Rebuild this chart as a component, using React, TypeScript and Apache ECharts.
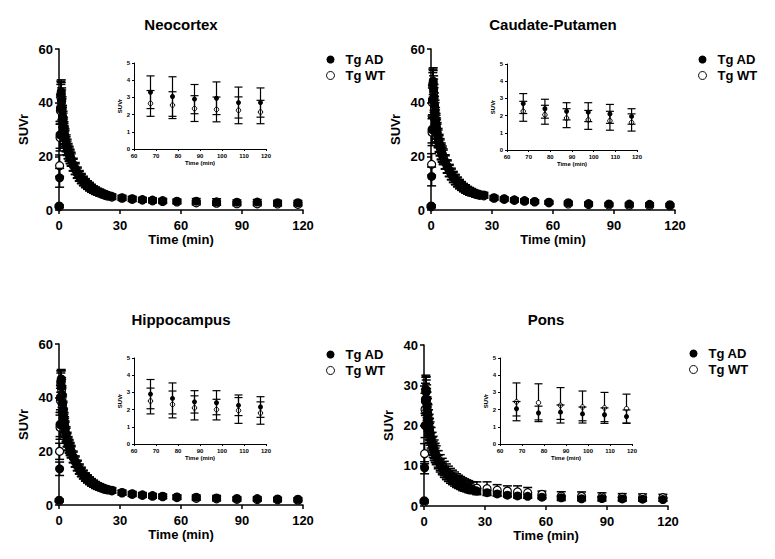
import React, { useEffect, useRef } from "react";
import * as echarts from "echarts";

// ---------- data ----------
const TIME = [0.1, 0.3, 0.5, 0.7, 0.9, 1.1, 1.3, 1.5, 1.75, 2,
  2.25, 2.5, 2.75, 3, 3.5, 4, 4.5, 5, 5.5, 6,
  7, 8, 9, 10, 11, 12, 13, 14, 15, 16,
  17, 18, 19, 20, 21, 22, 23, 24, 26, 31,
  36, 41, 46, 51, 58, 67.5, 77.5, 87.5, 97.5, 107.5,
  117.5];

const SERIES_NAMES = ["Tg AD", "Tg WT"];
const TITLES = ["Neocortex", "Caudate-Putamen", "Hippocampus", "Pons"];

const NEO_AD = [1.5, 12, 28, 38, 43, 44, 41, 38, 35, 33,
  31, 29.5, 28, 27, 25, 23.5, 22, 21, 20, 19,
  17, 15.5, 14, 12.8, 11.8, 10.9, 10.1, 9.4, 8.8, 8.2,
  7.7, 7.3, 6.9, 6.6, 6.3, 6, 5.7, 5.5, 5.1, 4.6,
  4.2, 3.9, 3.7, 3.5, 3.3, 3.3, 3.05, 2.9, 2.95, 2.7,
  2.7];
const NEO_AD_ERR = [0.5, 3.5, 5, 5, 5, 4.5, 4.5, 4.2, 4, 3.8,
  3.6, 3.4, 3.3, 3.2, 3, 2.9, 2.8, 2.7, 2.6, 2.5,
  2.3, 2.2, 2, 1.9, 1.8, 1.7, 1.6, 1.5, 1.5, 1.4,
  1.3, 1.3, 1.2, 1.2, 1.1, 1.1, 1, 1, 0.9, 0.9,
  0.9, 0.8, 0.8, 0.8, 0.8, 0.95, 1.15, 0.85, 0.95, 0.9,
  0.85];
const NEO_WT = [1.2, 16.5, 27, 37, 42, 43, 40.5, 37.5, 34.5, 32.5,
  30.5, 29, 27.5, 26.5, 24.5, 23, 21.6, 20.6, 19.6, 18.6,
  16.7, 15.2, 13.7, 12.5, 11.5, 10.6, 9.8, 9.1, 8.5, 7.9,
  7.4, 7, 6.6, 6.3, 6, 5.7, 5.4, 5.2, 4.8, 4.4,
  4, 3.7, 3.4, 3.2, 3, 2.65, 2.55, 2.35, 2.3, 2.25,
  2.15];
const NEO_WT_ERR = [0.4, 4, 5, 5, 4.8, 4.5, 4.2, 4, 3.8, 3.6,
  3.4, 3.2, 3.1, 3, 2.8, 2.7, 2.6, 2.5, 2.4, 2.3,
  2.2, 2, 1.9, 1.8, 1.7, 1.6, 1.5, 1.4, 1.4, 1.3,
  1.2, 1.2, 1.1, 1.1, 1, 1, 0.9, 0.9, 0.9, 0.8,
  0.8, 0.8, 0.75, 0.75, 0.75, 0.75, 0.78, 0.75, 0.72, 0.78,
  0.68];

const CP_AD = [1.5, 12.5, 30, 41, 47, 48, 45, 42, 39, 36.5,
  34, 32, 30.5, 29, 27, 25, 23.5, 22, 21, 20,
  18, 16.3, 14.8, 13.5, 12.4, 11.4, 10.5, 9.7, 9, 8.4,
  7.9, 7.4, 7, 6.7, 6.4, 6.1, 5.9, 5.7, 5.6, 4.6,
  4.2, 3.8, 3.5, 3.2, 2.9, 2.7, 2.4, 2.25, 2.2, 2.1,
  1.95];
const CP_AD_ERR = [0.5, 3.5, 5, 5.5, 5.5, 5, 5, 4.8, 4.6, 4.4,
  4.2, 4, 3.8, 3.6, 3.4, 3.2, 3.1, 3, 2.9, 2.8,
  2.6, 2.4, 2.2, 2.1, 2, 1.9, 1.8, 1.7, 1.6, 1.5,
  1.5, 1.4, 1.4, 1.3, 1.2, 1.2, 1.1, 1.1, 1, 0.8,
  0.7, 0.7, 0.6, 0.6, 0.6, 0.58, 0.55, 0.5, 0.55, 0.55,
  0.45];
const CP_WT = [1.2, 17, 29, 40, 46, 47, 44, 41, 38, 35.8,
  33.3, 31.5, 30, 28.5, 26.5, 24.6, 23.1, 21.6, 20.6, 19.6,
  17.7, 16, 14.5, 13.2, 12.1, 11.2, 10.3, 9.5, 8.8, 8.2,
  7.7, 7.2, 6.8, 6.5, 6.2, 5.9, 5.7, 5.5, 5.3, 4.4,
  4, 3.6, 3.3, 3, 2.7, 2.25, 2.05, 1.85, 1.75, 1.7,
  1.6];
const CP_WT_ERR = [0.4, 4, 5, 5.5, 5.2, 5, 4.8, 4.6, 4.4, 4.2,
  4, 3.8, 3.6, 3.5, 3.3, 3.1, 3, 2.9, 2.8, 2.7,
  2.5, 2.3, 2.1, 2, 1.9, 1.8, 1.7, 1.6, 1.5, 1.4,
  1.4, 1.3, 1.3, 1.2, 1.1, 1.1, 1, 1, 0.9, 0.7,
  0.7, 0.6, 0.6, 0.6, 0.55, 0.58, 0.55, 0.55, 0.55, 0.55,
  0.5];

const HIP_AD = [1.8, 13.5, 30, 40, 46, 47, 44, 41, 38, 35.5,
  33, 31.5, 30, 28.5, 26.5, 24.5, 23, 22, 21, 20,
  18, 16.3, 14.8, 13.5, 12.4, 11.4, 10.5, 9.8, 9.1, 8.5,
  8, 7.5, 7.1, 6.8, 6.5, 6.2, 6, 5.8, 5.5, 4.7,
  4.2, 3.8, 3.5, 3.3, 3, 2.9, 2.65, 2.45, 2.4, 2.25,
  2.15];
const HIP_AD_ERR = [0.5, 2.5, 4.5, 4.5, 4, 3.5, 3.5, 3.4, 3.3, 3.2,
  3.1, 3, 2.9, 2.8, 2.7, 2.6, 2.5, 2.4, 2.3, 2.2,
  2.1, 2, 1.9, 1.8, 1.7, 1.6, 1.5, 1.45, 1.4, 1.35,
  1.3, 1.25, 1.2, 1.15, 1.1, 1.05, 1, 1, 1, 0.9,
  0.85, 0.85, 0.8, 0.8, 0.8, 0.85, 0.9, 0.65, 0.7, 0.6,
  0.6];
const HIP_WT = [1.5, 20, 29, 39, 45, 46, 43, 40, 37.2, 34.8,
  32.4, 30.9, 29.4, 28, 26, 24.1, 22.6, 21.6, 20.6, 19.6,
  17.7, 16, 14.5, 13.2, 12.1, 11.2, 10.3, 9.6, 8.9, 8.3,
  7.8, 7.3, 6.9, 6.6, 6.3, 6, 5.8, 5.6, 5.3, 4.5,
  4, 3.6, 3.3, 3.1, 2.8, 2.5, 2.3, 2.1, 2, 1.95,
  1.8];
const HIP_WT_ERR = [0.4, 3, 4.5, 4.5, 4.2, 4, 3.8, 3.6, 3.4, 3.3,
  3.1, 3, 2.9, 2.8, 2.6, 2.5, 2.4, 2.3, 2.2, 2.1,
  2, 1.9, 1.8, 1.7, 1.6, 1.5, 1.45, 1.4, 1.3, 1.25,
  1.2, 1.15, 1.1, 1.05, 1, 1, 0.95, 0.9, 0.9, 0.8,
  0.8, 0.75, 0.75, 0.75, 0.75, 0.75, 0.78, 0.7, 0.6, 0.75,
  0.65];

const PONS_AD = [1.3, 9.5, 20, 26, 29, 28.5, 26.5, 24.5, 23, 21.5,
  20.3, 19.3, 18.4, 17.6, 16.3, 15.2, 14.3, 13.5, 12.8, 12.2,
  11.1, 10.2, 9.4, 8.7, 8.1, 7.6, 7.1, 6.7, 6.3, 5.9,
  5.6, 5.3, 5, 4.8, 4.6, 4.4, 4.2, 4, 3.7, 3.3,
  3, 2.7, 2.5, 2.4, 2.2, 2.05, 1.8, 1.85, 1.75, 1.7,
  1.6];
const PONS_AD_ERR = [0.3, 1.5, 3, 3, 3, 2.8, 2.7, 2.6, 2.5, 2.4,
  2.3, 2.2, 2.1, 2, 1.9, 1.8, 1.7, 1.65, 1.6, 1.55,
  1.45, 1.35, 1.3, 1.2, 1.15, 1.1, 1.05, 1, 0.95, 0.9,
  0.85, 0.8, 0.8, 0.75, 0.7, 0.7, 0.65, 0.65, 0.6, 0.55,
  0.5, 0.45, 0.45, 0.45, 0.42, 0.42, 0.4, 0.42, 0.4, 0.4,
  0.38];
const PONS_WT = [1, 13, 24, 26.5, 28.5, 28.3, 26.5, 24.8, 23.3, 21.9,
  20.7, 19.7, 18.8, 18, 16.7, 15.6, 14.7, 13.9, 13.2, 12.6,
  11.5, 10.6, 9.8, 9.1, 8.5, 8, 7.5, 7.1, 6.7, 6.3,
  6, 5.7, 5.4, 5.2, 5, 4.8, 4.6, 4.5, 4.4, 4.3,
  3.9, 3.7, 3.5, 3.3, 2.9, 2.45, 2.4, 2.25, 2.15, 2.1,
  2.05];
const PONS_WT_ERR = [0.3, 2.5, 4, 4, 4, 3.8, 3.6, 3.5, 3.4, 3.3,
  3.2, 3.1, 3, 2.9, 2.8, 2.7, 2.6, 2.5, 2.4, 2.35,
  2.25, 2.15, 2.05, 2, 1.95, 1.9, 1.85, 1.8, 1.75, 1.7,
  1.65, 1.6, 1.6, 1.55, 1.5, 1.5, 1.45, 1.45, 1.6, 1.7,
  1.4, 1.3, 1.5, 1.3, 0.8, 1.1, 1.1, 1.03, 0.93, 0.9,
  0.85];

const MAIN_X_TICKS = { min: 0, max: 120, interval: 30 };
const INSET_X_TICKS = { min: 60, max: 120, interval: 10 };
const INSET_Y_TICKS = { min: 0, max: 5, interval: 1 };
const MAIN_Y_TICKS = [
  { min: 0, max: 60, interval: 20 },
  { min: 0, max: 60, interval: 20 },
  { min: 0, max: 60, interval: 20 },
  { min: 0, max: 40, interval: 10 },
];
const INSET_COUNT = 6;

// ---------- layout (positions only) ----------
const FONT = "'Liberation Sans', Arial, Helvetica, sans-serif";
const LAYOUT = [
  { main: [59, 49, 244, 161], inset: [134, 63, 132, 86], legend: [326, 53], title: [181, 17] },
  { main: [431, 49, 244, 161], inset: [507, 64, 130, 86], legend: [698, 53], title: [553, 17] },
  { main: [59, 344, 244, 161], inset: [134, 358, 132, 86], legend: [326, 348], title: [181, 312] },
  { main: [424, 345, 244, 161], inset: [500, 358, 132, 86], legend: [689, 347], title: [546, 312] },
];

const PANEL_DATA = [
  [NEO_AD, NEO_AD_ERR, NEO_WT, NEO_WT_ERR],
  [CP_AD, CP_AD_ERR, CP_WT, CP_WT_ERR],
  [HIP_AD, HIP_AD_ERR, HIP_WT, HIP_WT_ERR],
  [PONS_AD, PONS_AD_ERR, PONS_WT, PONS_WT_ERR],
];

const errRender = (cap: number, lw: number) => (params: any, api: any) => {
  const x = api.value(0);
  const lo = api.value(1);
  const hi = api.value(2);
  const a = api.coord([x, lo]);
  const b = api.coord([x, hi]);
  const st = { stroke: "#000", lineWidth: lw, fill: null };
  return {
    type: "group",
    children: [
      { type: "line", shape: { x1: a[0], y1: a[1], x2: b[0], y2: b[1] }, style: st },
      { type: "line", shape: { x1: a[0] - cap, y1: a[1], x2: a[0] + cap, y2: a[1] }, style: st },
      { type: "line", shape: { x1: b[0] - cap, y1: b[1], x2: b[0] + cap, y2: b[1] }, style: st },
    ],
  };
};

function buildOption() {
  const grid: any[] = [];
  const xAxis: any[] = [];
  const yAxis: any[] = [];
  const series: any[] = [];
  const legend: any[] = [];
  const title: any[] = [];

  const black = "#000";

  LAYOUT.forEach((L, k) => {
    const [ad, adErr, wt, wtErr] = PANEL_DATA[k];
    const gi = grid.length;
    grid.push({ left: L.main[0], top: L.main[1], width: L.main[2], height: L.main[3], outerBoundsMode: "none" });
    xAxis.push({
      gridIndex: gi, type: "value", ...MAIN_X_TICKS,
      name: "Time (min)", nameLocation: "middle", nameGap: 22,
      nameTextStyle: { fontFamily: FONT, fontWeight: "bold", fontSize: 13, color: black },
      axisLine: { show: true, onZero: false, lineStyle: { color: black, width: 1.5 } },
      axisTick: { show: true, inside: false, length: 4, lineStyle: { color: black, width: 1.5 } },
      axisLabel: { fontFamily: FONT, fontWeight: "bold", fontSize: 13, color: black, margin: 9 },
      splitLine: { show: false },
    });
    yAxis.push({
      gridIndex: gi, type: "value", ...MAIN_Y_TICKS[k],
      name: "SUVr", nameLocation: "middle", nameGap: 29, nameRotate: 90,
      nameTextStyle: { fontFamily: FONT, fontWeight: "bold", fontSize: 13, color: black },
      axisLine: { show: true, onZero: false, lineStyle: { color: black, width: 1.5 } },
      axisTick: { show: true, inside: false, length: 4, lineStyle: { color: black, width: 1.5 } },
      axisLabel: { fontFamily: FONT, fontWeight: "bold", fontSize: 13, color: black, margin: 6 },
      splitLine: { show: false },
    });

    const ii = grid.length;
    grid.push({ left: L.inset[0], top: L.inset[1], width: L.inset[2], height: L.inset[3], outerBoundsMode: "none" });
    xAxis.push({
      gridIndex: ii, type: "value", ...INSET_X_TICKS,
      name: "Time (min)", nameLocation: "middle", nameGap: 10,
      nameTextStyle: { fontFamily: FONT, fontWeight: "bold", fontSize: 6, color: black },
      axisLine: { show: true, onZero: false, lineStyle: { color: black, width: 1 } },
      axisTick: { show: true, inside: false, length: 2, lineStyle: { color: black, width: 1 } },
      axisLabel: { fontFamily: FONT, fontWeight: "bold", fontSize: 6, color: black, margin: 4 },
      splitLine: { show: false },
    });
    yAxis.push({
      gridIndex: ii, type: "value", ...INSET_Y_TICKS,
      name: "SUVr", nameLocation: "middle", nameGap: 10, nameRotate: 90,
      nameTextStyle: { fontFamily: FONT, fontWeight: "bold", fontSize: 6, color: black },
      axisLine: { show: true, onZero: false, lineStyle: { color: black, width: 1 } },
      axisTick: { show: true, inside: false, length: 2, lineStyle: { color: black, width: 1 } },
      axisLabel: { fontFamily: FONT, fontWeight: "bold", fontSize: 6, color: black, margin: 4 },
      splitLine: { show: false },
    });

    const mk = (vals: number[], errs: number[], from: number) =>
      TIME.slice(from).map((t, i) => [t, vals[from + i] - errs[from + i], vals[from + i] + errs[from + i]]);
    const pts = (vals: number[], from: number) => TIME.slice(from).map((t, i) => [t, vals[from + i]]);
    const from = TIME.length - INSET_COUNT;

    // main: WT drawn first, AD (bars + markers) on top
    series.push(
      { type: "custom", name: "WT err", xAxisIndex: gi, yAxisIndex: gi, renderItem: errRender(4.5, 1.5), encode: { x: 0, y: [1, 2] }, data: mk(wt, wtErr, 0), z: 2, silent: true },
      { type: "scatter", name: SERIES_NAMES[1], xAxisIndex: gi, yAxisIndex: gi, symbol: "circle", symbolSize: 8, data: pts(wt, 0), itemStyle: { color: "#fff", borderColor: black, borderWidth: 1.2, opacity: 1 }, z: 3 },
      { type: "custom", name: "AD err", xAxisIndex: gi, yAxisIndex: gi, renderItem: errRender(4.5, 1.5), encode: { x: 0, y: [1, 2] }, data: mk(ad, adErr, 0), z: 4, silent: true },
      { type: "scatter", name: SERIES_NAMES[0], xAxisIndex: gi, yAxisIndex: gi, symbol: "circle", symbolSize: 9, data: pts(ad, 0), itemStyle: { color: black, borderColor: black, borderWidth: 0, opacity: 1 }, z: 5 },
    );
    // inset
    series.push(
      { type: "custom", name: "WT err i", xAxisIndex: ii, yAxisIndex: ii, renderItem: errRender(4, 1.2), encode: { x: 0, y: [1, 2] }, data: mk(wt, wtErr, from), z: 2, silent: true },
      { type: "scatter", name: SERIES_NAMES[1], xAxisIndex: ii, yAxisIndex: ii, symbol: "circle", symbolSize: 4.5, data: pts(wt, from), itemStyle: { color: "#fff", borderColor: black, borderWidth: 1, opacity: 1 }, z: 3 },
      { type: "custom", name: "AD err i", xAxisIndex: ii, yAxisIndex: ii, renderItem: errRender(4, 1.2), encode: { x: 0, y: [1, 2] }, data: mk(ad, adErr, from), z: 4, silent: true },
      { type: "scatter", name: SERIES_NAMES[0], xAxisIndex: ii, yAxisIndex: ii, symbol: "circle", symbolSize: 5, data: pts(ad, from), itemStyle: { color: black, opacity: 1 }, z: 5 },
    );

    legend.push({
      orient: "vertical", left: L.legend[0], top: L.legend[1], padding: 0,
      itemWidth: 8, itemHeight: 8, itemGap: 3, selectedMode: false,
      data: [
        { name: SERIES_NAMES[0], icon: "circle", itemStyle: { color: black, borderWidth: 0 } },
        { name: SERIES_NAMES[1], icon: "circle", itemStyle: { color: "#fff", borderColor: black, borderWidth: 1 } },
      ],
      textStyle: { fontFamily: FONT, fontWeight: "bold", fontSize: 13, color: black, padding: [0, 0, 0, 6] },
    });

    title.push({
      text: TITLES[k], left: L.title[0], top: L.title[1], textAlign: "center", padding: 0,
      textStyle: { fontFamily: FONT, fontWeight: "bold", fontSize: 15, color: black },
    });
  });

  return {
    animation: false,
    backgroundColor: "#fff",
    title, legend, grid, xAxis, yAxis, series,
  };
}

export default function App() {
  const ref = useRef<HTMLDivElement>(null);
  useEffect(() => {
    if (!ref.current) return;
    const chart = echarts.init(ref.current, null, { renderer: "svg" });
    chart.setOption(buildOption() as any);
    return () => chart.dispose();
  }, []);
  return (
    <div
      ref={ref}
      style={{ position: "fixed", left: 0, top: 0, width: 775, height: 559, background: "#fff" }}
    />
  );
}
